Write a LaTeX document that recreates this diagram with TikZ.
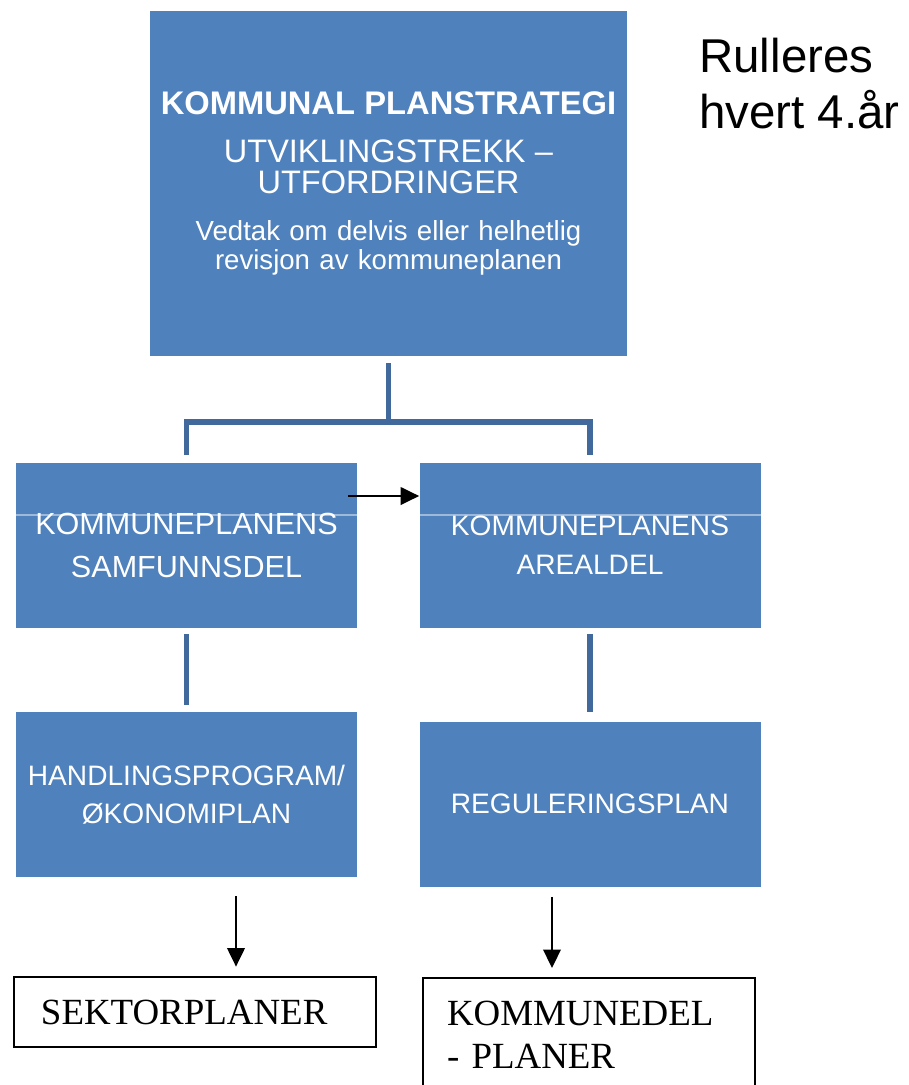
\documentclass[tikz,border=0pt]{standalone}
\usepackage{fontspec}
\setmainfont{Liberation Sans}
\newfontfamily\timesfont{Liberation Serif}
\usetikzlibrary{shapes, arrows.meta}
\definecolor{planblue}{HTML}{4F81BD}
\definecolor{branchblue}{HTML}{41699B}
\tikzstyle{blue_box} = [rectangle, fill=planblue, text=white, text centered, inner sep=0pt, minimum width=6.82cm, minimum height=3.3cm, text width=6.6cm, font=\fontsize{16}{22}\selectfont]
\tikzstyle{plain_box} = [rectangle, draw=black, line width=1.6pt, text=black, align=left, inner ysep=13pt, font=\timesfont\fontsize{21}{24.4}\selectfont]
\tikzstyle{line} = [draw, line width=1pt, -{Triangle[length=10.5pt, width=10pt]}]
\tikzstyle{branch} = [draw=branchblue, line width=3.4pt]
\tikzstyle{seam} = [draw=white, draw opacity=0.45, line width=0.6pt]

\begin{document}
\begin{tikzpicture}[node distance=1.2cm, auto]
            \useasboundingbox (0,0) rectangle (18.18,-21.7);
            \clip (0,0) rectangle (18.18,-21.7);
            % Draw nodes
            % Top
            \node (plan) [blue_box, minimum width=9.54cm, minimum height=6.9cm, text width=9.3cm] at (7.77,-3.67) {%
                {\fontsize{18.6}{21}\selectfont\bfseries KOMMUNAL PLANSTRATEGI\par}
                \vspace{9pt}
                {\fontsize{18.5}{18.1}\selectfont UTVIKLINGSTREKK --\\ UTFORDRINGER\par}
                \vspace{10pt}
                {\fontsize{15.7}{16.5}\selectfont Vedtak om delvis eller helhetlig\\ revisjon av kommuneplanen\par}};
            \node (rull) [right of=plan, anchor=north west, xshift=5.01cm, yshift=2.91cm, inner sep=0pt, align=left, font=\fontsize{27}{32}\selectfont] {Rulleres\\hvert 4.år};
            
            % Left line
            \node (samf) [blue_box, below of=plan, xshift=-4.04cm, yshift=-6.04cm, font=\fontsize{17.4}{24.4}\selectfont] {KOMMUNEPLANENS\\SAMFUNNSDEL};
            \node (handl) [blue_box, below of=samf, yshift=-3.78cm, font=\fontsize{16}{21.7}\selectfont] {HANDLINGSPROGRAM/\\ØKONOMIPLAN};
            \node (sektor) [plain_box, below of=handl, xshift=0.17cm, yshift=-3.15cm, inner xsep=0.54cm, text width=6.16cm, minimum height=1.4cm, inner ysep=0pt] {SEKTORPLANER};
            
            % Right line
            \node (areal) [blue_box, right of=samf, xshift=6.87cm] {KOMMUNEPLANENS\\AREALDEL};
            \node (regul) [blue_box, below of=areal, yshift=-3.97cm] {REGULERINGSPLAN};
            \node (kdel) [plain_box, below of=regul, anchor=north, xshift=-0.02cm, yshift=-2.26cm, line width=1.2pt, inner xsep=0.48cm, text width=5.68cm] {KOMMUNEDEL\\- PLANER};
            
            % Draw lines
            % Tree
            \draw [branch] ([yshift=-0.14cm]plan.south) -- ++(0,-1.18cm) coordinate (fork);
            \draw [branch] ([yshift=0.16cm]samf.north) |- (fork) -| ([yshift=0.16cm]areal.north);
            \draw [branch] ([yshift=-0.12cm]samf.south) -- ([yshift=0.14cm]handl.north);
            \draw [branch] ([yshift=-0.12cm]areal.south) -- ([yshift=0.18cm]regul.north);
            \draw [seam] ([yshift=0.61cm]samf.west) -- ([yshift=0.61cm]samf.east);
            \draw [seam] ([yshift=0.61cm]areal.west) -- ([yshift=0.61cm]areal.east);
            
            % Arrows
            \path [line] ([xshift=-0.18cm, yshift=0.99cm]samf.east) -- ([yshift=0.99cm]areal.west);
            \coordinate (h1) at ([xshift=0.99cm, yshift=-0.38cm]handl.south);
            \coordinate (r1) at ([xshift=-0.76cm, yshift=-0.2cm]regul.south);
            \path [line, shorten >=0.18cm] (h1) -- (h1 |- sektor.north);
            \path [line, shorten >=0.18cm] (r1) -- (r1 |- kdel.north);
\end{tikzpicture}
\end{document}
